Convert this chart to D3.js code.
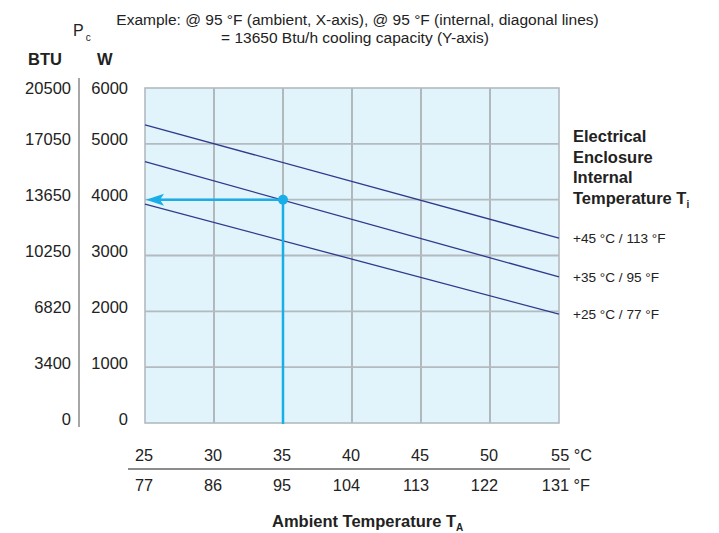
<!DOCTYPE html>
<html><head><meta charset="utf-8">
<script src="https://cdn.jsdelivr.net/npm/d3@7"></script>
<style>body{margin:0;background:#fff}svg{font-family:"Liberation Sans",Arial,Helvetica,sans-serif}</style>
</head><body>
<svg id="c" width="719" height="533"></svg>
<script>
const tempC = [25, 30, 35, 40, 45, 50, 55];
const tempF = [77, 86, 95, 104, 113, 122, 131];
const wTicks = [0, 1000, 2000, 3000, 4000, 5000, 6000];
const btuTicks = [0, 3400, 6820, 10250, 13650, 17050, 20500];
const seriesNames = ["+45 °C / 113 °F", "+35 °C / 95 °F", "+25 °C / 77 °F"];
const seriesStart = [5340, 4680, 3920];   // W at 25 °C ambient
const seriesEnd = [3310, 2615, 1950];     // W at 55 °C ambient
const example = {x: 35, y: 4000};

const svg = d3.select("#c");
const x = d3.scaleLinear().domain([25, 55]).range([145, 559]);
const y = d3.scaleLinear().domain([0, 6000]).range([423, 88]);

// plot background
svg.append("rect").attr("x", x(25)).attr("y", y(6000)).attr("width", x(55) - x(25)).attr("height", y(0) - y(6000))
  .attr("fill", "#e1f3fb");
// vertical grid
svg.append("g").selectAll("line").data(tempC.slice(1, -1)).join("line")
  .attr("x1", d => x(d)).attr("x2", d => x(d)).attr("y1", y(6000)).attr("y2", y(0))
  .attr("stroke", "#9c9fa2").attr("stroke-width", 1.4);
// horizontal grid
svg.append("g").selectAll("line").data(wTicks.slice(1, -1)).join("line")
  .attr("x1", x(25)).attr("x2", x(55)).attr("y1", d => y(d)).attr("y2", d => y(d))
  .attr("stroke", "#b3bac0").attr("stroke-width", 1.8);
// border
svg.append("rect").attr("x", x(25)).attr("y", y(6000)).attr("width", x(55) - x(25)).attr("height", y(0) - y(6000))
  .attr("fill", "none").attr("stroke", "#b3bac0").attr("stroke-width", 1.6);

// diagonal lines
const line = d3.line().x(d => x(d[0])).y(d => y(d[1]));
svg.append("g").selectAll("path").data(seriesNames.map((n, i) => [[25, seriesStart[i]], [55, seriesEnd[i]]])).join("path")
  .attr("d", line).attr("fill", "none").attr("stroke", "#2e3a8c").attr("stroke-width", 1.3);

// example arrow
const blue = "#1aaee9";
svg.append("line").attr("x1", x(example.x)).attr("x2", x(example.x)).attr("y1", y(example.y)).attr("y2", y(0) + 1)
  .attr("stroke", blue).attr("stroke-width", 2.5);
svg.append("line").attr("x1", x(example.x)).attr("x2", x(25) + 12).attr("y1", y(example.y)).attr("y2", y(example.y))
  .attr("stroke", blue).attr("stroke-width", 2.5);
svg.append("path").attr("d", `M${x(25) + 1},${y(example.y)} L${x(25) + 19},${y(example.y) - 6} L${x(25) + 15},${y(example.y)} L${x(25) + 19},${y(example.y) + 6} Z`)
  .attr("fill", blue);
svg.append("circle").attr("cx", x(example.x)).attr("cy", y(example.y)).attr("r", 5).attr("fill", blue);

// left axes
svg.append("line").attr("x1", 79).attr("x2", 79).attr("y1", 78).attr("y2", 427).attr("stroke", "#777").attr("stroke-width", 1.3);
const tickStyle = sel => sel.attr("font-size", 16.5).attr("fill", "#222").attr("dominant-baseline", "central");
svg.append("g").selectAll("text").data(wTicks).join("text")
  .attr("x", 128).attr("y", d => y(d) - (d === 6000 ? 0 : 4.5)).attr("text-anchor", "end").text(d => d).call(tickStyle);
svg.append("g").selectAll("text").data(btuTicks).join("text")
  .attr("x", 71).attr("y", (d, i) => y(wTicks[i]) - (i === 6 ? 0 : 4.5)).attr("text-anchor", "end").text(d => d).call(tickStyle);

svg.append("text").attr("x", 28).attr("y", 65).attr("font-size", 16.5).attr("font-weight", "bold").attr("fill", "#222").text("BTU");
svg.append("text").attr("x", 97).attr("y", 65).attr("font-size", 16.5).attr("font-weight", "bold").attr("fill", "#222").text("W");
const pc = svg.append("text").attr("x", 73).attr("y", 36).attr("font-size", 16).attr("fill", "#222");
pc.append("tspan").text("P");
pc.append("tspan").attr("font-size", 10).attr("dy", 5).attr("dx", 2).text("c");

// title
svg.append("text").attr("x", 357.5).attr("y", 25).attr("text-anchor", "middle").attr("font-size", 15.5).attr("fill", "#222")
  .text("Example: @ 95 °F (ambient, X-axis), @ 95 °F (internal, diagonal lines)");
svg.append("text").attr("x", 355).attr("y", 43).attr("text-anchor", "middle").attr("font-size", 15.5).attr("fill", "#222")
  .text("= 13650 Btu/h cooling capacity (Y-axis)");

// bottom axes
const bStyle = sel => sel.attr("font-size", 16.3).attr("fill", "#222").attr("text-anchor", "end");
svg.append("g").selectAll("text").data(tempC).join("text")
  .attr("x", (d, i) => i === tempC.length - 1 ? x(d) + 33 : x(d) + 8).attr("y", 461)
  .text((d, i) => i === tempC.length - 1 ? d + " °C" : d).call(bStyle);
svg.append("line").attr("x1", 128).attr("x2", 570).attr("y1", 469).attr("y2", 469).attr("stroke", "#666").attr("stroke-width", 1.3);
svg.append("g").selectAll("text").data(tempF).join("text")
  .attr("x", (d, i) => i === tempF.length - 1 ? x(tempC[i]) + 31 : x(tempC[i]) + 8).attr("y", 491)
  .text((d, i) => i === tempF.length - 1 ? d + " °F" : d).call(bStyle);
const at = svg.append("text").attr("x", 272).attr("y", 527).attr("font-size", 16.5).attr("font-weight", "bold").attr("fill", "#222");
at.append("tspan").text("Ambient Temperature T");
at.append("tspan").attr("font-size", 10).attr("dy", 4).text("A");

// right legend
const legTitle = ["Electrical", "Enclosure", "Internal", "Temperature T"];
const lt = svg.append("g");
legTitle.forEach((t, i) => {
  const tx = lt.append("text").attr("x", 573).attr("y", 142 + i * 20.7).attr("font-size", 16.5).attr("font-weight", "bold").attr("fill", "#222").text(t);
  if (i === 3) tx.append("tspan").attr("font-size", 10).attr("dy", 4).text("i");
});
svg.append("g").selectAll("text").data(seriesNames).join("text")
  .attr("x", 573).attr("y", (d, i) => y(seriesEnd[i]) + 5).attr("font-size", 13.6).attr("fill", "#222").text(d => d);
</script>
</body></html>
